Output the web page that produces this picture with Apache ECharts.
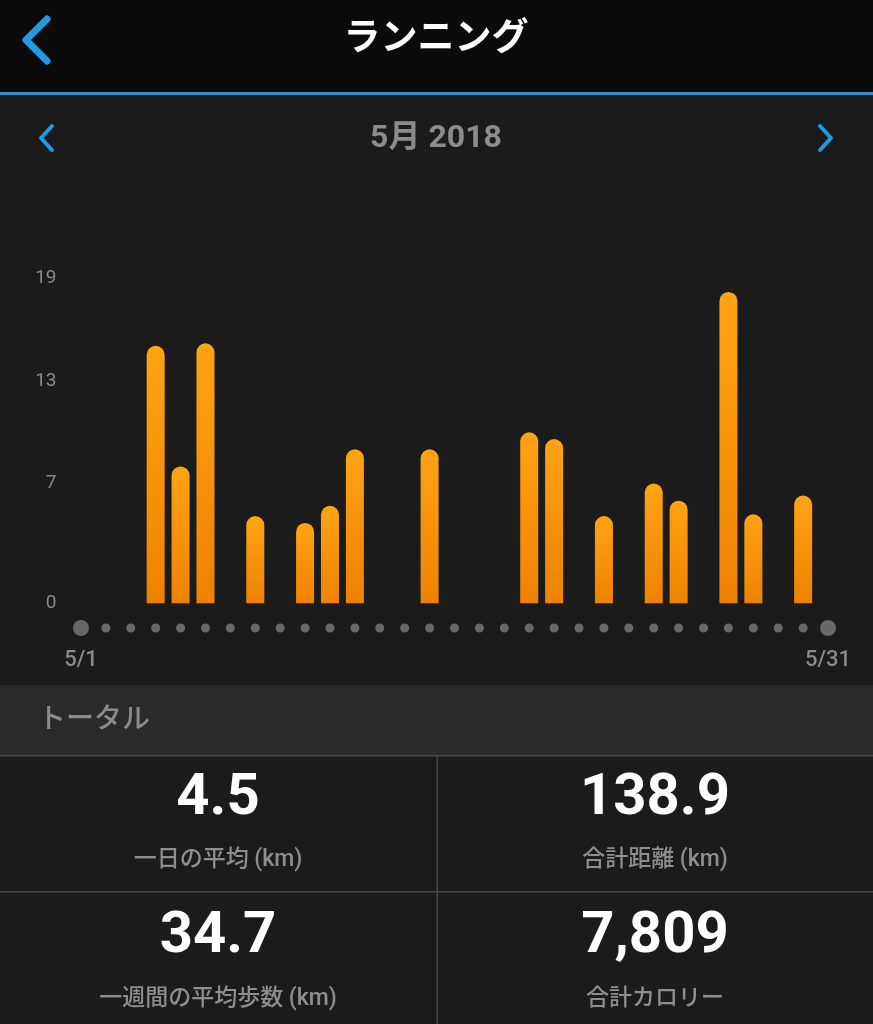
<!DOCTYPE html>
<html>
<head>
<meta charset="utf-8">
<script src="https://cdn.jsdelivr.net/npm/echarts@6/dist/echarts.min.js"></script>
<style>
html,body{margin:0;padding:0;background:#1b1b1b;}
#c{width:873px;height:1024px;}
</style>
</head>
<body>
<div id="c"></div>
<script>
// ---- data ----
const days = Array.from({length: 31}, (_, i) => '5/' + (i + 1));
const distanceKm = [
  0, 0, 0, 15.05, 8.0, 15.2, 0, 5.1, 0, 4.7,
  5.7, 9.0, 0, 0, 9.0, 0, 0, 0, 10.0, 9.6,
  0, 5.1, 0, 7.0, 6.0, 0, 18.2, 5.2, 0, 6.3, 0
];
const yTicks = [0, 7, 13, 19];
const titleText = 'ランニング';
const monthText = '5月 2018';
const sectionText = 'トータル';
const statValues = ['4.5', '138.9', '34.7', '7,809'];
const statLabels = ['一日の平均 (km)', '合計距離 (km)', '一週間の平均歩数 (km)', '合計カロリー'];

const FONT = 'Roboto, "Noto Sans CJK JP", sans-serif';
const chart = echarts.init(document.getElementById('c'), null, {renderer: 'canvas'});

const statPos = [[218, 799, 860], [655, 799, 860], [218, 937, 999], [655, 937, 999]];
const statGraphics = [];
statValues.forEach((v, i) => {
  statGraphics.push({type: 'text', x: statPos[i][0], y: statPos[i][1], z: 10,
    style: {text: v, fill: '#ffffff', font: 'bold 58px ' + FONT, textAlign: 'center', textVerticalAlign: 'middle'}});
  statGraphics.push({type: 'text', x: statPos[i][0], y: statPos[i][2], z: 10,
    style: {text: statLabels[i], fill: '#8e8e8e', font: '500 23px ' + FONT, textAlign: 'center', textVerticalAlign: 'middle'}});
});

const option = {
  backgroundColor: '#1b1b1b',
  animation: false,
  graphic: [
    {type: 'rect', shape: {x: 0, y: 0, width: 873, height: 92}, style: {fill: '#0b0b0b'}, z: 0},
    {type: 'rect', shape: {x: 0, y: 92, width: 873, height: 3}, style: {fill: '#3b8cc9'}, z: 1},
    {type: 'polyline', shape: {points: [[47, 19], [26, 40], [47, 61]]}, z: 2,
      style: {stroke: '#1e9be6', lineWidth: 7, lineCap: 'round', lineJoin: 'round', fill: null}},
    {type: 'text', x: 436, y: 41, z: 2,
      style: {text: titleText, fill: '#ffffff', font: 'bold 37px ' + FONT, textAlign: 'center', textVerticalAlign: 'middle'}},
    {type: 'polyline', shape: {points: [[52, 126], [41, 138], [52, 150]]}, z: 2,
      style: {stroke: '#1e9be6', lineWidth: 4, lineCap: 'round', lineJoin: 'round', fill: null}},
    {type: 'polyline', shape: {points: [[820, 126], [831, 138], [820, 150]]}, z: 2,
      style: {stroke: '#1e9be6', lineWidth: 4, lineCap: 'round', lineJoin: 'round', fill: null}},
    {type: 'text', x: 436, y: 139, z: 2,
      style: {text: monthText, fill: '#8c8c8c', font: 'bold 32px ' + FONT, textAlign: 'center', textVerticalAlign: 'middle'}},
    {type: 'rect', shape: {x: 0, y: 685, width: 873, height: 70}, style: {fill: '#2a2a2a'}, z: 0},
    {type: 'text', x: 38, y: 721, z: 2,
      style: {text: sectionText, fill: '#8a8a8a', font: '500 28px ' + FONT, textAlign: 'left', textVerticalAlign: 'middle'}},
    {type: 'rect', shape: {x: 0, y: 755, width: 873, height: 1.5}, style: {fill: '#474747'}, z: 1},
    {type: 'rect', shape: {x: 0, y: 891, width: 873, height: 1.5}, style: {fill: '#474747'}, z: 1},
    {type: 'rect', shape: {x: 436.5, y: 755, width: 1.5, height: 269}, style: {fill: '#474747'}, z: 1}
  ].concat(statGraphics),
  grid: [
    {left: 68.5, right: 32.5, top: 278.3, bottom: 1024 - 603.3},
    {left: 68.5, right: 32.5, top: 620, height: 16}
  ],
  xAxis: [
    {type: 'category', data: days, gridIndex: 0, show: false},
    {type: 'category', data: days, gridIndex: 1,
      axisLine: {show: false}, axisTick: {show: false},
      axisLabel: {
        interval: 0, margin: 13, color: '#8a8a8a', fontSize: 22, fontFamily: FONT, fontWeight: 500,
        formatter: (v, i) => (i === 0 || i === days.length - 1) ? v : ''
      }}
  ],
  yAxis: [
    {type: 'value', gridIndex: 0, min: 0, max: 19,
      splitLine: {show: false}, axisLine: {show: false}, axisTick: {show: false},
      axisLabel: {customValues: yTicks, color: '#8a8a8a', fontSize: 19, fontFamily: FONT, margin: 12}},
    {type: 'value', gridIndex: 1, min: -1, max: 1, show: false}
  ],
  series: [
    {type: 'bar', xAxisIndex: 0, yAxisIndex: 0, data: distanceKm, barWidth: 18,
      itemStyle: {
        borderRadius: [9, 9, 0, 0],
        color: new echarts.graphic.LinearGradient(0, 0, 0, 1, [
          {offset: 0, color: '#ffa314'},
          {offset: 1, color: '#ee8200'}
        ])
      }},
    {type: 'scatter', xAxisIndex: 1, yAxisIndex: 1,
      data: days.map(() => 0),
      symbolSize: (v, p) => (p.dataIndex === 0 || p.dataIndex === days.length - 1) ? 16 : 9,
      itemStyle: {color: '#7c7c7c'}}
  ]
};
chart.setOption(option);
</script>
</body>
</html>
